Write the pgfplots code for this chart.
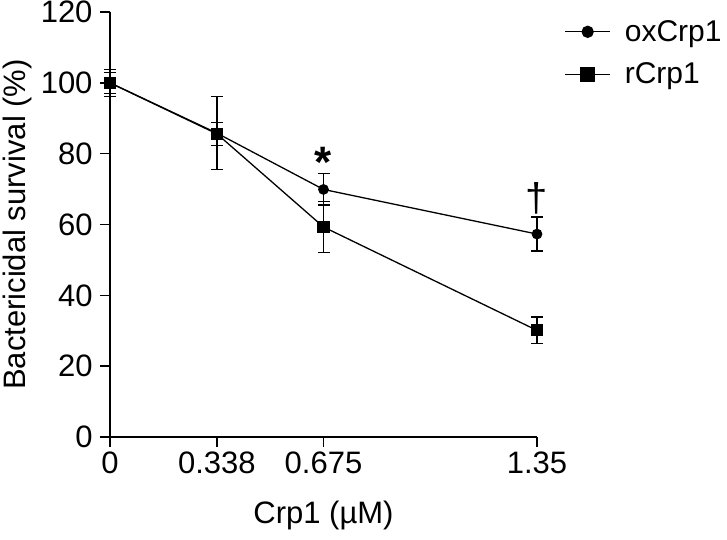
\documentclass[border=0pt]{standalone}
\usepackage{fontspec}
\setmainfont{Liberation Sans}
\usepackage{pgfplots}
\pgfplotsset{compat=1.18}
\begin{document}
\begin{tikzpicture}
\begin{axis}[
  at={(0,0)}, anchor=south west,
  scale only axis,
  width=427pt, height=425pt,
  xmin=0, xmax=1.35, ymin=0, ymax=120,
  axis lines=left,
  axis line style={-, line width=1.6pt},
  xtick={0,0.338,0.675,1.35},
  xticklabels={0,0.338,0.675,1.35},
  ytick={0,20,40,60,80,100,120},
  tick align=outside,
  major tick length=10pt,
  tick style={black, line width=1.4pt},
  /pgf/number format/assume math mode=true,
  ticklabel style={font=\fontsize{31}{34}\selectfont},
  xticklabel style={yshift=-1pt},
  yticklabel style={inner sep=0pt, xshift=-7.3pt},
  label style={font=\fontsize{31}{34}\selectfont},
  xlabel={Crp1 (\textmu M)},
  ylabel={Bactericidal survival (\%)},
  xlabel style={at={(axis description cs:0.5,0)}, anchor=center, yshift=-78pt},
  ylabel style={at={(axis description cs:0,0.5)}, anchor=center, yshift=93pt},
  legend style={at={(1.064,0.985)}, anchor=north west, draw=none, fill=none,
    font=\fontsize{30}{34}\selectfont, row sep=16pt, inner sep=0pt,
    nodes={inner sep=2pt},
    /tikz/every odd column/.append style={column sep=12pt}},
  legend cell align=left,
  clip=false,
]
\addplot[black, line width=1.3pt, mark=*, mark size=4.7pt,
  legend image code/.code={
    \draw[black, line width=1.3pt] (0pt,0pt) -- (45pt,0pt);
    \fill[black] (22.5pt,0pt) circle (5.5pt);},
  error bars/.cd, y dir=both, y explicit,
  error bar style={line width=1.2pt},
  error mark options={rotate=90, mark size=6pt, line width=1.2pt}]
  table[x=x, y=y, y error=e] {
x y e
0 100 3.8
0.338 85.8 10.3
0.675 69.9 4.4
1.35 57.3 4.8
};
\addlegendentry{oxCrp1}
\addplot[black, line width=1.3pt, mark=square*, mark size=5.4pt,
  legend image code/.code={
    \draw[black, line width=1.3pt] (0pt,0pt) -- (45pt,0pt);
    \fill[black] (15.5pt,-7pt) rectangle (29.5pt,7pt);},
  error bars/.cd, y dir=both, y explicit,
  error bar style={line width=1.2pt},
  error mark options={rotate=90, mark size=6pt, line width=1.2pt}]
  table[x=x, y=y, y error=e] {
x y e
0 100 3.0
0.338 85.6 3.2
0.675 59.3 7.3
1.35 30.1 3.8
};
\addlegendentry{rCrp1}
\node[font=\fontsize{44}{44}\selectfont\bfseries] at (axis cs:0.675,77.5) {*};
\node[font=\fontsize{40}{40}\selectfont] at (axis cs:1.35,67.4) {\textdagger};
\end{axis}
\pgfresetboundingbox
\useasboundingbox (-110pt,-102pt) rectangle (617pt,437pt);
\end{tikzpicture}
\end{document}
